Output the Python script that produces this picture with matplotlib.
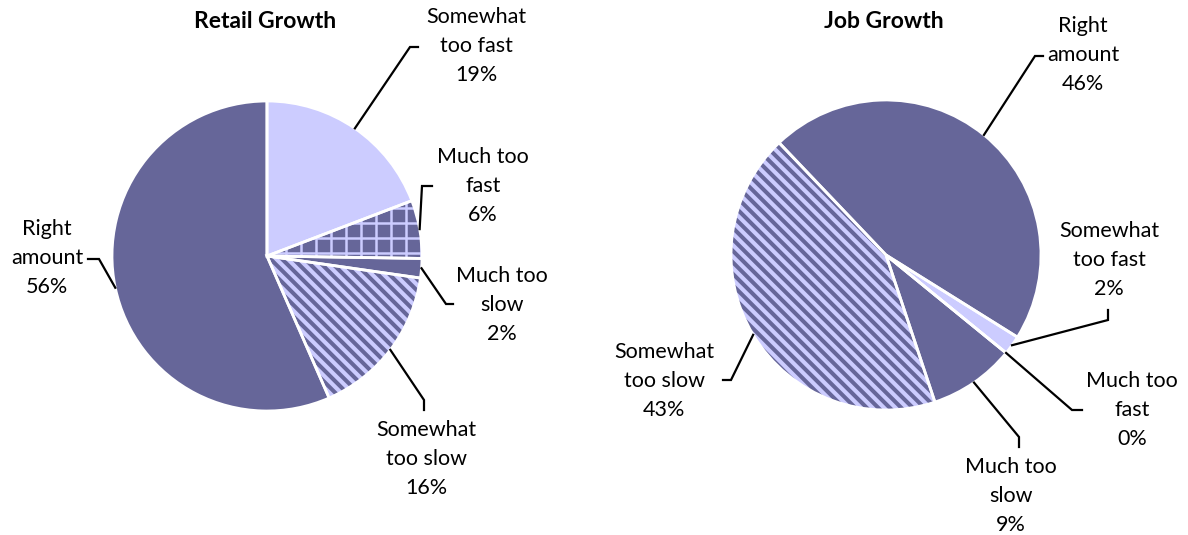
import numpy as np
import matplotlib.pyplot as plt
from matplotlib.patches import Wedge
from matplotlib.collections import LineCollection

plt.rcParams['font.family'] = ['Lato', 'DejaVu Sans']

# slice order (clockwise from the start angle)
categories = ['Somewhat\ntoo fast', 'Much too\nfast', 'Much too\nslow',
              'Somewhat\ntoo slow', 'Right\namount']
retail_share = [19, 6, 2, 16, 56]
job_share = [2, 0, 9, 43, 46]

DARK = '#666699'
LIGHT = '#ccccff'
faces = [LIGHT, DARK, DARK, LIGHT, DARK]
fills = [None, 'grid', None, 'stripe', None]

W, H = 1188, 535


def hatch_wedge(ax, w, kind):
    cx, cy = w.center
    r = w.r
    if kind == 'stripe':
        step = 11.5
        offs = np.arange(-2 * r, 2 * r, step)
        segs = [[(cx + c - 2 * r, cy + 2 * r), (cx + c + 2 * r, cy - 2 * r)] for c in offs]
        lc = LineCollection(segs, colors=DARK, linewidths=2.9, zorder=2)
    else:
        step = 15
        xs = np.arange(np.floor((cx - r) / step) * step + 1, cx + r, step)
        ys = np.arange(np.floor((cy - r) / step) * step + 12, cy + r, step)
        segs = [[(x, cy - r), (x, cy + r)] for x in xs]
        segs += [[(cx - r, y), (cx + r, y)] for y in ys]
        lc = LineCollection(segs, colors=LIGHT, linewidths=1.8, zorder=2)
    ax.add_collection(lc)
    lc.set_clip_path(w)


def draw_pie(ax, shares, center, start, title, texts, elbows, stubs):
    wedges, _ = ax.pie(shares, colors=faces, startangle=start, counterclock=False,
                       radius=155, center=center, frame=True,
                       wedgeprops=dict(linewidth=0, zorder=1))
    for w, kind in zip(wedges, fills):
        if kind:
            hatch_wedge(ax, w, kind)
    for w in wedges:
        ax.add_patch(Wedge(w.center, w.r, w.theta1, w.theta2, fill=False,
                           ec='white', lw=2, zorder=3))

    for w, lab, v, tp, el, st in zip(wedges, categories, shares, texts, elbows, stubs):
        mid = np.deg2rad((w.theta1 + w.theta2) / 2)
        ax0 = w.center[0] + w.r * np.cos(mid)
        ay0 = w.center[1] + w.r * np.sin(mid)
        ax.plot([ax0, el[0], st[0]], [ay0, el[1], st[1]], color='black', lw=1.6,
                solid_joinstyle='miter', zorder=4)
        ax.text(tp[0], tp[1], f'{lab}\n{v}%', ha='center', va='center',
                fontsize=15.5, linespacing=1.55, color='black')

    ax.text(center[0] - 2, 514, title, ha='center', va='center',
            fontsize=16.5, fontweight='bold')


fig = plt.figure(figsize=(W / 100, H / 100), dpi=100)
ax = fig.add_axes([0, 0, 1, 1])

draw_pie(ax, retail_share, (267, 279), 90, 'Retail Growth',
         texts=[(476, 489), (483, 349), (502, 230), (426, 76), (47, 277)],
         elbows=[(410, 488), (422, 349), (446, 231), (424, 135), (99, 276)],
         stubs=[(418, 488), (432, 349), (453, 231), (424, 125), (88, 276)])

draw_pie(ax, job_share, (886, 280), -32, 'Job Growth',
         texts=[(1109, 275), (1132, 125), (1011, 39), (664, 154), (1083, 480)],
         elbows=[(1108, 215), (1072, 125), (1019, 98), (731, 155), (1035, 479)],
         stubs=[(1108, 225), (1082, 125), (1019, 88), (723, 155), (1043, 479)])

ax.set_xlim(0, W)
ax.set_ylim(0, H)
ax.set_aspect('auto')
ax.axis('off')

fig.savefig('out.png', dpi=100)
